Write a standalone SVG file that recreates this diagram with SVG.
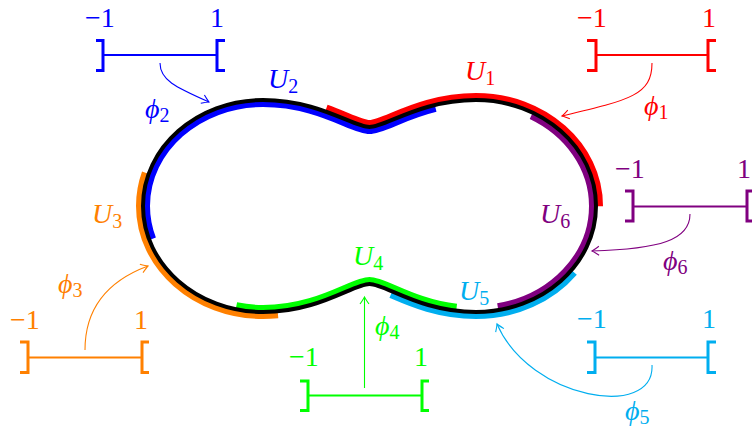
<svg xmlns="http://www.w3.org/2000/svg" width="752" height="429" viewBox="0 0 752 429">
<style>
.t{font-family:"Liberation Serif","Times New Roman",serif;font-size:28px}
.i{font-style:italic}
.s{font-size:20px;font-style:normal}
.bar{fill:none;stroke-width:2}
.br{fill:none;stroke-width:3}
.arc{fill:none;stroke-width:14}
.ar{fill:none;stroke-width:1.1}
</style>
<defs>
<path id="D" d="M369.5,127 C385.5,127 420.5,100 476,100 C542,100 596,147.5 596,206 C596,264.5 542,312 476,312 C420.5,312 385.5,284 369.5,284 C353.5,284 318.5,312 263,312 C197,312 143,264.5 143,206 C143,147.5 197,100 263,100 C318.5,100 353.5,127 369.5,127 Z"/>
<clipPath id="in"><use href="#D"/></clipPath>
<mask id="out"><rect width="752" height="429" fill="#fff"/><use href="#D" fill="#000"/></mask>
<marker id="mR" viewBox="-10 -6 12 12" refX="0" refY="0" markerWidth="12" markerHeight="12" markerUnits="userSpaceOnUse" orient="auto"><path d="M-7,-4.5 Q-2,-1 0,0 Q-2,1 -7,4.5" fill="none" stroke="#ff0000" stroke-width="1.1"/></marker>
<marker id="mB" viewBox="-10 -6 12 12" refX="0" refY="0" markerWidth="12" markerHeight="12" markerUnits="userSpaceOnUse" orient="auto"><path d="M-7,-4.5 Q-2,-1 0,0 Q-2,1 -7,4.5" fill="none" stroke="#0000ff" stroke-width="1.1"/></marker>
<marker id="mO" viewBox="-10 -6 12 12" refX="0" refY="0" markerWidth="12" markerHeight="12" markerUnits="userSpaceOnUse" orient="auto"><path d="M-7,-4.5 Q-2,-1 0,0 Q-2,1 -7,4.5" fill="none" stroke="#ff8000" stroke-width="1.1"/></marker>
<marker id="mG" viewBox="-10 -6 12 12" refX="0" refY="0" markerWidth="12" markerHeight="12" markerUnits="userSpaceOnUse" orient="auto"><path d="M-7,-4.5 Q-2,-1 0,0 Q-2,1 -7,4.5" fill="none" stroke="#00ff00" stroke-width="1.1"/></marker>
<marker id="mC" viewBox="-10 -6 12 12" refX="0" refY="0" markerWidth="12" markerHeight="12" markerUnits="userSpaceOnUse" orient="auto"><path d="M-7,-4.5 Q-2,-1 0,0 Q-2,1 -7,4.5" fill="none" stroke="#00aeef" stroke-width="1.1"/></marker>
<marker id="mP" viewBox="-10 -6 12 12" refX="0" refY="0" markerWidth="12" markerHeight="12" markerUnits="userSpaceOnUse" orient="auto"><path d="M-7,-4.5 Q-2,-1 0,0 Q-2,1 -7,4.5" fill="none" stroke="#800080" stroke-width="1.1"/></marker>
</defs>

<g id="curve">
<g mask="url(#out)">
<path class="arc" pathLength="1000" stroke="#ff0000" stroke-dasharray="250 709 1000" d="M369.5,127 C385.5,127 420.5,100 476,100 C542,100 596,147.5 596,206 C596,264.5 542,312 476,312 C420.5,312 385.5,284 369.5,284 C353.5,284 318.5,312 263,312 C197,312 143,264.5 143,206 C143,147.5 197,100 263,100 C318.5,100 353.5,127 369.5,127 Z"/>
<path class="arc" pathLength="1000" stroke="#ff8000" stroke-dasharray="0 583.6 194.9 1000" d="M369.5,127 C385.5,127 420.5,100 476,100 C542,100 596,147.5 596,206 C596,264.5 542,312 476,312 C420.5,312 385.5,284 369.5,284 C353.5,284 318.5,312 263,312 C197,312 143,264.5 143,206 C143,147.5 197,100 263,100 C318.5,100 353.5,127 369.5,127 Z"/>
<path class="arc" pathLength="1000" stroke="#00aeef" stroke-dasharray="0 310.6 168.4 1000" d="M369.5,127 C385.5,127 420.5,100 476,100 C542,100 596,147.5 596,206 C596,264.5 542,312 476,312 C420.5,312 385.5,284 369.5,284 C353.5,284 318.5,312 263,312 C197,312 143,264.5 143,206 C143,147.5 197,100 263,100 C318.5,100 353.5,127 369.5,127 Z"/>
</g>
<g clip-path="url(#in)">
<path class="arc" pathLength="1000" stroke="#0000ff" stroke-dasharray="60 660 1000" d="M369.5,127 C385.5,127 420.5,100 476,100 C542,100 596,147.5 596,206 C596,264.5 542,312 476,312 C420.5,312 385.5,284 369.5,284 C353.5,284 318.5,312 263,312 C197,312 143,264.5 143,206 C143,147.5 197,100 263,100 C318.5,100 353.5,127 369.5,127 Z"/>
<path class="arc" pathLength="1000" stroke="#00ff00" stroke-dasharray="0 421 199 1000" d="M369.5,127 C385.5,127 420.5,100 476,100 C542,100 596,147.5 596,206 C596,264.5 542,312 476,312 C420.5,312 385.5,284 369.5,284 C353.5,284 318.5,312 263,312 C197,312 143,264.5 143,206 C143,147.5 197,100 263,100 C318.5,100 353.5,127 369.5,127 Z"/>
<path class="arc" pathLength="1000" stroke="#800080" stroke-dasharray="0 146.7 237.7 1000" d="M369.5,127 C385.5,127 420.5,100 476,100 C542,100 596,147.5 596,206 C596,264.5 542,312 476,312 C420.5,312 385.5,284 369.5,284 C353.5,284 318.5,312 263,312 C197,312 143,264.5 143,206 C143,147.5 197,100 263,100 C318.5,100 353.5,127 369.5,127 Z"/>
</g>
<use href="#D" fill="none" stroke="#000" stroke-width="4"/>
</g>

<g id="labels-U" class="t">
<text class="i" x="465" y="80" fill="#ff0000">U<tspan class="s" dy="5">1</tspan></text>
<text class="i" x="268" y="88" fill="#0000ff">U<tspan class="s" dy="5">2</tspan></text>
<text class="i" x="92" y="223" fill="#ff8000">U<tspan class="s" dy="5">3</tspan></text>
<text class="i" x="353" y="265" fill="#00ff00">U<tspan class="s" dy="5">4</tspan></text>
<text class="i" x="459" y="300" fill="#00aeef">U<tspan class="s" dy="5">5</tspan></text>
<text class="i" x="540" y="223" fill="#800080">U<tspan class="s" dy="5">6</tspan></text>
</g>

<g id="chart1" stroke="#ff0000">
<path class="bar" d="M596,55 H708"/>
<path class="br" d="M587,40.5 H596 V70.5 H587 M716,40.5 H708 V70.5 H716"/>
<text class="t" x="577" y="27" fill="#ff0000" stroke="none">−1</text>
<text class="t" x="702" y="27" fill="#ff0000" stroke="none">1</text>
</g>
<g id="chart2" stroke="#0000ff">
<path class="bar" d="M103,55 H217"/>
<path class="br" d="M96,40.5 H103 V70.5 H96 M225,40.5 H217 V70.5 H225"/>
<text class="t" x="85" y="27" fill="#0000ff" stroke="none">−1</text>
<text class="t" x="210" y="27" fill="#0000ff" stroke="none">1</text>
</g>
<g id="chart3" stroke="#ff8000">
<path class="bar" d="M28,357.5 H142"/>
<path class="br" d="M20,342 H28 V372.5 H20 M149,342 H142 V372.5 H149"/>
<text class="t" x="10" y="329" fill="#ff8000" stroke="none">−1</text>
<text class="t" x="134" y="329" fill="#ff8000" stroke="none">1</text>
</g>
<g id="chart4" stroke="#00ff00">
<path class="bar" d="M308,395.5 H422"/>
<path class="br" d="M300,381 H308 V410.5 H300 M429,381 H422 V410.5 H429"/>
<text class="t" x="289" y="366" fill="#00ff00" stroke="none">−1</text>
<text class="t" x="414" y="366" fill="#00ff00" stroke="none">1</text>
</g>
<g id="chart5" stroke="#00aeef">
<path class="bar" d="M595,357.5 H708"/>
<path class="br" d="M587,342 H595 V372.5 H587 M716,342 H708 V372.5 H716"/>
<text class="t" x="577" y="328" fill="#00aeef" stroke="none">−1</text>
<text class="t" x="702" y="328" fill="#00aeef" stroke="none">1</text>
</g>
<g id="chart6" stroke="#800080">
<path class="bar" d="M633,206.5 H747"/>
<path class="br" d="M625,191 H633 V221 H625 M756,191 H747 V221 H756"/>
<text class="t" x="615" y="178" fill="#800080" stroke="none">−1</text>
<text class="t" x="737" y="178" fill="#800080" stroke="none">1</text>
</g>

<g id="connectors">
<path class="ar" stroke="#ff0000" marker-end="url(#mR)" d="M652,63 C652,95 630,100 562,116"/>
<path class="ar" stroke="#0000ff" marker-end="url(#mB)" d="M160,63 C160,80 175,87 209,102"/>
<path class="ar" stroke="#ff8000" marker-end="url(#mO)" d="M85,350 C85,310 105,282 148,266"/>
<path class="ar" stroke="#00ff00" marker-end="url(#mG)" d="M364.5,388 V297"/>
<path class="ar" stroke="#00aeef" marker-end="url(#mC)" d="M652,365 C655,420 530,400 497,324"/>
<path class="ar" stroke="#800080" marker-end="url(#mP)" d="M690,214 C690,240 660,249 592,251"/>
</g>

<g id="labels-phi" class="t">
<text class="i" x="644" y="115" fill="#ff0000">ϕ<tspan class="s" dy="4">1</tspan></text>
<text class="i" x="145" y="118" fill="#0000ff">ϕ<tspan class="s" dy="4">2</tspan></text>
<text class="i" x="58" y="293" fill="#ff8000">ϕ<tspan class="s" dy="4">3</tspan></text>
<text class="i" x="375" y="335" fill="#00ff00">ϕ<tspan class="s" dy="4">4</tspan></text>
<text class="i" x="625" y="420" fill="#00aeef">ϕ<tspan class="s" dy="4">5</tspan></text>
<text class="i" x="663" y="270" fill="#800080">ϕ<tspan class="s" dy="4">6</tspan></text>
</g>
</svg>
